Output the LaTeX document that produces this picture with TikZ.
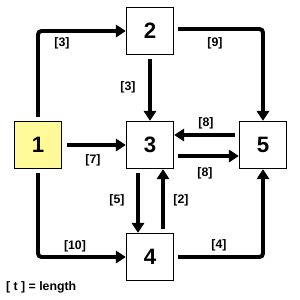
\documentclass[tikz,border=0pt]{standalone}
\usepackage{fontspec}
\setmainfont{Liberation Sans}
\usetikzlibrary{arrows.meta, calc}

\tikzset{
  box/.style={draw, line width=1.2pt, minimum size=1.41cm, inner sep=0pt,
    font=\fontsize{19}{19}\selectfont\bfseries},
  link/.style={line width=3.4pt, -{Triangle[length=8.5pt,width=10.5pt]},
    rounded corners=3pt},
  len/.style={font=\fontsize{10.5}{10.5}\selectfont\bfseries},
}

\begin{document}
\begin{tikzpicture}[x=0.03cm, y=-0.03cm]
    \useasboundingbox (0,0) rectangle (300,300);

    \node[box, fill=yellow!40] (n1) at (38,145) {1};
    \node[box] (n2) at (150,31) {2};
    \node[box] (n3) at (150,145) {3};
    \node[box] (n4) at (150,257) {4};
    \node[box] (n5) at (263,145) {5};

    \draw[link] ($(n1.north)+(0,-4)$) |- (n2.west);
    \draw[link] ($(n2.east)+(4,-2)$) -| (n5.north);
    \draw[link] ($(n2.south)+(0,4)$) -- (n3.north);
    \draw[link] ($(n1.east)+(5,0)$) -- (n3.west);
    \draw[link] ($(n5.west)+(-4,-10)$) -- ($(n3.east)+(0,-10)$);
    \draw[link] ($(n3.east)+(4,11)$) -- ($(n5.west)+(0,11)$);
    \draw[link] ($(n3.south)+(-12,4)$) -- ($(n4.north)+(-12,0)$);
    \draw[link] ($(n4.north)+(13,-4)$) -- ($(n3.south)+(13,0)$);
    \draw[link] ($(n1.south)+(0,4)$) |- (n4.west);
    \draw[link] ($(n4.east)+(4,0)$) -| (n5.south);

    \node[len] at (62,43) {[3]};
    \node[len] at (215,43) {[9]};
    \node[len] at (128,87) {[3]};
    \node[len] at (206,123) {[8]};
    \node[len] at (93,160) {[7]};
    \node[len] at (205,173) {[8]};
    \node[len] at (117,200) {[5]};
    \node[len] at (181,200) {[2]};
    \node[len] at (75,246) {[10]};
    \node[len] at (219,245) {[4]};
    \node[len, anchor=west] at (2,287) {[ t ] = length};
\end{tikzpicture}
\end{document}
